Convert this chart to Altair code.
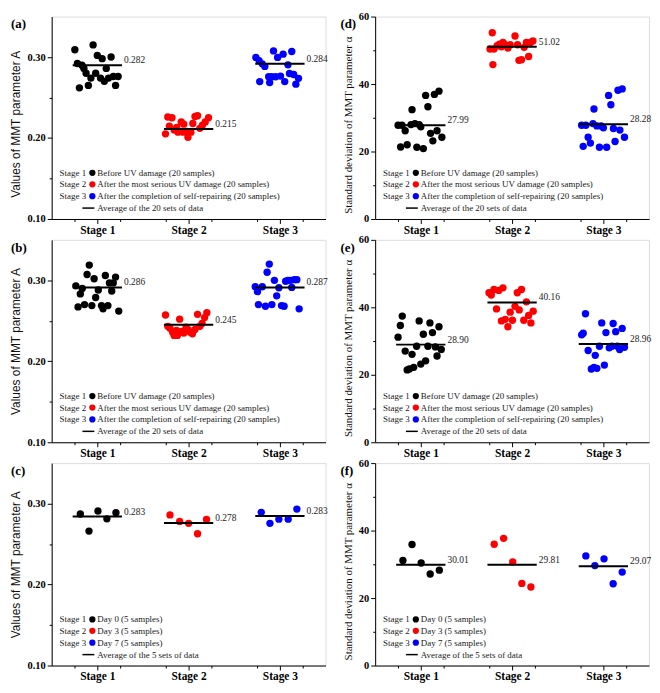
import altair as alt
import pandas as pd

SERIF = "Liberation Serif"
SANS = "Liberation Sans"

STAGES = ["Stage 1", "Stage 2", "Stage 3"]
COLORS = ["#000000", "#ff0000", "#0000ff"]
X_TICKS = [0.75, 1, 1.25, 1.75, 2, 2.25, 2.75, 3, 3.25]

# ---------------- panel (a) ----------------
A1_X = [0.754, 0.954, 1.0, 1.053, 1.151, 0.782, 0.832, 0.853, 0.877, 0.982, 1.098, 0.930, 1.035, 1.077, 1.123, 1.175, 1.228, 0.804, 0.902, 1.2]
A1_Y = [0.309, 0.315, 0.302, 0.298, 0.300, 0.292, 0.290, 0.286, 0.280, 0.280, 0.286, 0.274, 0.274, 0.270, 0.274, 0.276, 0.276, 0.262, 0.265, 0.265]
A2_X = [1.747, 1.772, 1.818, 1.789, 1.842, 1.870, 1.884, 1.919, 1.947, 1.940, 1.982, 1.993, 2.025, 2.046, 2.070, 2.098, 2.123, 2.151, 2.182, 2.218]
A2_Y = [0.2052, 0.2259, 0.2251, 0.2147, 0.2100, 0.2131, 0.2072, 0.2199, 0.2171, 0.2072, 0.2080, 0.2008, 0.2072, 0.2179, 0.2267, 0.2275, 0.2120, 0.2159, 0.2199, 0.2251]
A3_X = [2.737, 2.772, 2.807, 2.835, 2.779, 2.877, 2.888, 2.930, 2.975, 3.035, 2.912, 2.954, 3.007, 3.053, 3.088, 3.105, 3.130, 3.151, 3.175, 3.204]
A3_Y = [0.2996, 0.2956, 0.2916, 0.2884, 0.2697, 0.2757, 0.2685, 0.3076, 0.2996, 0.3036, 0.2757, 0.2757, 0.2765, 0.2697, 0.2904, 0.2797, 0.3068, 0.2785, 0.2665, 0.2737]
A_AVG = [0.290, 0.211, 0.2916]
A_LAB = ["0.282", "0.215", "0.284"]

# ---------------- panel (b) ----------------
B1_X = [0.765, 0.789, 0.814, 0.835, 0.860, 0.888, 0.912, 0.940, 0.965, 0.982, 1.011, 1.046, 1.063, 1.088, 1.116, 1.133, 1.158, 1.175, 1.200, 1.235]
B1_Y = [0.2932, 0.2672, 0.2832, 0.2900, 0.2700, 0.3072, 0.3188, 0.2688, 0.3020, 0.2788, 0.2880, 0.2688, 0.2648, 0.3060, 0.2688, 0.2968, 0.2868, 0.2968, 0.3040, 0.2620]
B2_X = [1.747, 1.772, 1.796, 1.825, 1.842, 1.867, 1.877, 1.902, 1.923, 1.947, 1.972, 1.993, 2.018, 2.042, 2.070, 2.098, 2.123, 2.147, 2.175, 2.200]
B2_Y = [0.2572, 0.2432, 0.2408, 0.2360, 0.2320, 0.2380, 0.2320, 0.2520, 0.2368, 0.2348, 0.2420, 0.2392, 0.2360, 0.2340, 0.2392, 0.2580, 0.2432, 0.2468, 0.2540, 0.2600]
B3_X = [2.730, 2.754, 2.807, 2.765, 2.842, 2.860, 2.884, 2.912, 2.940, 2.965, 2.989, 3.018, 3.046, 3.063, 3.088, 3.116, 3.130, 3.158, 3.186, 3.211]
B3_Y = [0.2920, 0.2860, 0.2920, 0.2700, 0.2680, 0.3100, 0.3200, 0.2700, 0.3000, 0.2808, 0.2908, 0.2688, 0.2680, 0.2988, 0.3000, 0.3000, 0.2912, 0.3008, 0.3008, 0.2648]
B_AVG = [0.2912, 0.2452, 0.2912]
B_LAB = ["0.286", "0.245", "0.287"]

# ---------------- panel (c) ----------------
C1_X = [0.814, 0.909, 1.007, 1.105, 1.204]
C1_Y = [0.2872, 0.2660, 0.2908, 0.2812, 0.2888]
C2_X = [1.796, 1.902, 2.0, 2.098, 2.196]
C2_Y = [0.2860, 0.2780, 0.2756, 0.2628, 0.2804]
C3_X = [2.796, 2.891, 2.989, 3.091, 3.186]
C3_Y = [0.2892, 0.2756, 0.2808, 0.2808, 0.2932]
C_AVG = [0.284, 0.276, 0.2848]
C_LAB = ["0.283", "0.278", "0.283"]

# ---------------- panel (d) ----------------
D1_X = [0.751, 0.794, 0.829, 0.779, 0.851, 0.904, 0.893, 0.936, 0.982, 0.957, 1.0, 1.028, 1.053, 1.078, 1.107, 1.132, 1.149, 1.178, 1.199, 1.231]
D1_Y = [27.79, 27.79, 26.15, 21.35, 22.02, 32.40, 27.98, 28.27, 27.98, 21.25, 27.31, 20.87, 36.63, 33.27, 25.38, 23.17, 36.92, 26.15, 37.88, 24.23]
D2_X = [1.783, 1.758, 1.801, 1.836, 1.861, 1.883, 1.900, 1.925, 1.954, 1.979, 2.032, 2.060, 2.075, 2.103, 2.132, 2.157, 2.181, 2.203, 2.228, 1.790]
D2_Y = [55.19, 50.38, 50.38, 51.35, 51.83, 51.06, 52.31, 51.63, 50.67, 51.63, 54.23, 51.63, 47.02, 47.21, 50.87, 52.31, 48.17, 52.31, 52.79, 45.77]
D3_X = [2.762, 2.808, 2.833, 2.779, 2.858, 2.886, 2.897, 2.929, 2.975, 2.957, 3.0, 3.036, 3.057, 3.082, 3.110, 3.128, 3.160, 3.181, 3.206, 3.231]
D3_Y = [27.79, 27.79, 24.23, 21.54, 22.50, 28.27, 32.60, 27.60, 27.60, 21.25, 27.02, 21.25, 36.63, 33.85, 26.83, 22.98, 38.17, 26.35, 38.56, 24.23]
D_AVG = [27.8, 51.06, 28.08]
D_LAB = ["27.99", "51.02", "28.28"]

# ---------------- panel (e) ----------------
E1_X = [0.751, 0.776, 0.797, 0.829, 0.851, 0.875, 0.904, 0.922, 0.954, 0.982, 1.0, 1.028, 1.053, 1.078, 1.100, 1.128, 1.160, 1.178, 1.199, 1.224]
E1_Y = [31.15, 34.62, 37.40, 27.02, 21.44, 21.73, 26.06, 22.21, 28.46, 35.96, 23.17, 32.02, 24.13, 28.46, 35.38, 32.50, 28.27, 25.58, 34.23, 27.50]
E2_X = [1.747, 1.772, 1.801, 1.854, 1.900, 2.057, 2.103, 1.829, 1.883, 1.925, 1.954, 1.979, 2.004, 2.032, 2.078, 2.128, 2.157, 2.181, 2.206, 2.231]
E2_Y = [44.33, 43.65, 45.29, 45.0, 45.77, 44.33, 45.29, 39.52, 35.96, 36.44, 34.23, 38.56, 36.15, 40.29, 39.23, 36.15, 41.63, 37.60, 35.38, 38.85]
E3_X = [2.762, 2.779, 2.804, 2.833, 2.868, 2.897, 2.911, 2.929, 2.957, 2.982, 3.011, 3.028, 3.064, 3.093, 3.107, 3.135, 3.153, 3.178, 3.206, 3.231]
E3_Y = [31.83, 32.31, 38.08, 27.21, 21.73, 22.21, 25.77, 21.92, 28.46, 35.38, 22.88, 32.50, 27.98, 28.46, 35.19, 32.79, 28.46, 27.50, 33.75, 28.17]
E_AVG = [28.94, 41.44, 29.13]
E_LAB = ["28.90", "40.16", "28.96"]

# ---------------- panel (f) ----------------
F1_X = [0.804, 0.904, 1.004, 1.103, 1.203]
F1_Y = [31.15, 35.87, 30.38, 27.12, 28.27]
F2_X = [1.804, 1.907, 2.007, 2.107, 2.206]
F2_Y = [35.96, 37.69, 30.67, 24.33, 23.27]
F3_X = [2.808, 2.907, 3.007, 3.107, 3.206]
F3_Y = [32.50, 29.62, 31.63, 24.23, 27.69]
F_AVG = [29.90, 29.90, 29.42]
F_LAB = ["30.01", "29.81", "29.07"]

LEG20 = ["Before UV damage (20 samples)",
         "After the most serious UV damage (20 samples)",
         "After the completion of self-repairing (20 samples)"]
AVG20 = "Average of the 20 sets of data"
LEG5 = ["Day 0 (5 samples)", "Day 3 (5 samples)", "Day 7 (5 samples)"]
AVG5 = "Average of the 5 sets of data"

W, H = 276, 204
HALF = 0.27


def one(text):
    return pd.DataFrame({"t": [text]})


def txt(text, x, y, size=9, weight="normal", baseline="middle", color="#1a1a1a"):
    return alt.Chart(one(text)).mark_text(
        align="left", baseline=baseline, font=SERIF, fontSize=size,
        fontWeight=weight, color=color
    ).encode(x=alt.value(x), y=alt.value(y), text="t:N")


def make_panel(letter, lab_x, xs, ys, avg, labs, kind, leg, avg_desc):
    rows = []
    for s in range(3):
        for x, y in zip(xs[s], ys[s]):
            rows.append({"x": x, "y": y, "stage": STAGES[s]})
    pts = pd.DataFrame(rows)
    lines = pd.DataFrame({"s": [1, 2, 3], "y": avg, "label": labs})

    if kind == "A":
        ydom = [0.10, 0.35]
        yvals = [0.10, 0.15, 0.20, 0.25, 0.30]
        lab_expr = "round(datum.value*100) % 10 == 0 ? format(datum.value, '.2f') : ''"
        minor = "round(datum.value*100) % 10 != 0"
        ytitle = "Values of  MMT parameter A"
        tfont, tsize, ty = SANS, 12, H / 2 + (6 if letter == "a" else 0)
    else:
        ydom = [0, 60]
        yvals = [0, 10, 20, 30, 40, 50, 60]
        lab_expr = "datum.value % 20 == 0 ? format(datum.value, 'd') : ''"
        minor = "datum.value % 20 != 0"
        ytitle = "Standard deviation of MMT parameter \u03b1"
        tfont, tsize, ty = SERIF, 11, H / 2 + 7

    xsc = alt.Scale(domain=[0.5, 3.5], nice=False, zero=False)
    ysc = alt.Scale(domain=ydom, nice=False, zero=False)
    xaxis = alt.Axis(
        values=X_TICKS, title=None, grid=False, labelOverlap=False,
        labelExpr="datum.value == 1 ? 'Stage 1' : datum.value == 2 ? 'Stage 2' : datum.value == 3 ? 'Stage 3' : ''",
        tickSize={"condition": {"test": "datum.value % 1 != 0", "value": 2.5}, "value": 4.5},
        labelFont=SERIF, labelFontWeight="bold", labelFontSize=11.5, labelPadding=1,
        labelColor="black", domainColor="black", tickColor="black",
    )
    yaxis = alt.Axis(
        values=yvals, title=ytitle, grid=False, labelOverlap=False, labelExpr=lab_expr,
        tickSize={"condition": {"test": minor, "value": 2.5}, "value": 4.5},
        labelFont=SERIF, labelFontWeight="bold", labelFontSize=10.5, labelPadding=2,
        titleFont=tfont, titleFontSize=tsize, titleFontWeight="normal", titlePadding=5,
        titleY=ty,
        labelColor="black", domainColor="black", tickColor="black", titleColor="#111",
    )

    points = alt.Chart(pts).mark_circle(size=55, opacity=1).encode(
        x=alt.X("x:Q", scale=xsc, axis=xaxis),
        y=alt.Y("y:Q", scale=ysc, axis=yaxis),
        color=alt.Color("stage:N", scale=alt.Scale(domain=STAGES, range=COLORS), legend=None),
    )
    base = alt.Chart(lines).transform_calculate(
        x1=f"datum.s - {HALF}", x2=f"datum.s + {HALF}")
    rule = base.mark_rule(color="black", strokeWidth=2).encode(
        x=alt.X("x1:Q", scale=xsc, axis=xaxis),
        x2="x2:Q",
        y=alt.Y("y:Q", scale=ysc, axis=yaxis),
    )
    labels = base.mark_text(align="left", baseline="bottom", dx=2, dy=0,
                            font=SERIF, fontSize=9.5, color="#222").encode(
        x=alt.X("x2:Q", scale=xsc, axis=xaxis),
        y=alt.Y("y:Q", scale=ysc, axis=yaxis),
        text="label:N",
    )

    layers = [points, rule, labels]
    row_y = [H - 46.5, H - 35, H - 23, H - 11]
    for i in range(3):
        layers.append(txt(STAGES[i], 8, row_y[i]))
        layers.append(alt.Chart(one("c")).mark_circle(size=40, opacity=1, color=COLORS[i]).encode(
            x=alt.value(41), y=alt.value(row_y[i])))
        layers.append(txt(leg[i], 46, row_y[i]))
    layers.append(alt.Chart(one("r")).mark_rule(color="black", strokeWidth=1.5).encode(
        x=alt.value(31), x2=alt.value(43), y=alt.value(row_y[3])))
    layers.append(txt(avg_desc, 46, row_y[3]))
    layers.append(txt(f"({letter})", lab_x, 2, size=13, weight="bold", baseline="top", color="black"))

    return alt.layer(*layers).properties(width=W, height=H)


pa = make_panel("a", -41, [A1_X, A2_X, A3_X], [A1_Y, A2_Y, A3_Y], A_AVG, A_LAB, "A", LEG20, AVG20)
pb = make_panel("b", -41, [B1_X, B2_X, B3_X], [B1_Y, B2_Y, B3_Y], B_AVG, B_LAB, "A", LEG20, AVG20)
pc = make_panel("c", -41, [C1_X, C2_X, C3_X], [C1_Y, C2_Y, C3_Y], C_AVG, C_LAB, "A", LEG5, AVG5)
pd_ = make_panel("d", -35, [D1_X, D2_X, D3_X], [D1_Y, D2_Y, D3_Y], D_AVG, D_LAB, "S", LEG20, AVG20)
pe = make_panel("e", -35, [E1_X, E2_X, E3_X], [E1_Y, E2_Y, E3_Y], E_AVG, E_LAB, "S", LEG20, AVG20)
pf = make_panel("f", -35, [F1_X, F2_X, F3_X], [F1_Y, F2_Y, F3_Y], F_AVG, F_LAB, "S", LEG5, AVG5)

chart = alt.concat(
    pa, pd_, pb, pe, pc, pf,
    columns=2, spacing={"row": 21, "column": 50}, bounds="flush",
).properties(
    padding={"left": 0, "top": 0, "right": 0, "bottom": 0}
).configure_view(
    stroke="black", strokeWidth=1
).configure(background="white")

chart.save("out.html", embed_options={"renderer": "svg", "actions": False})
